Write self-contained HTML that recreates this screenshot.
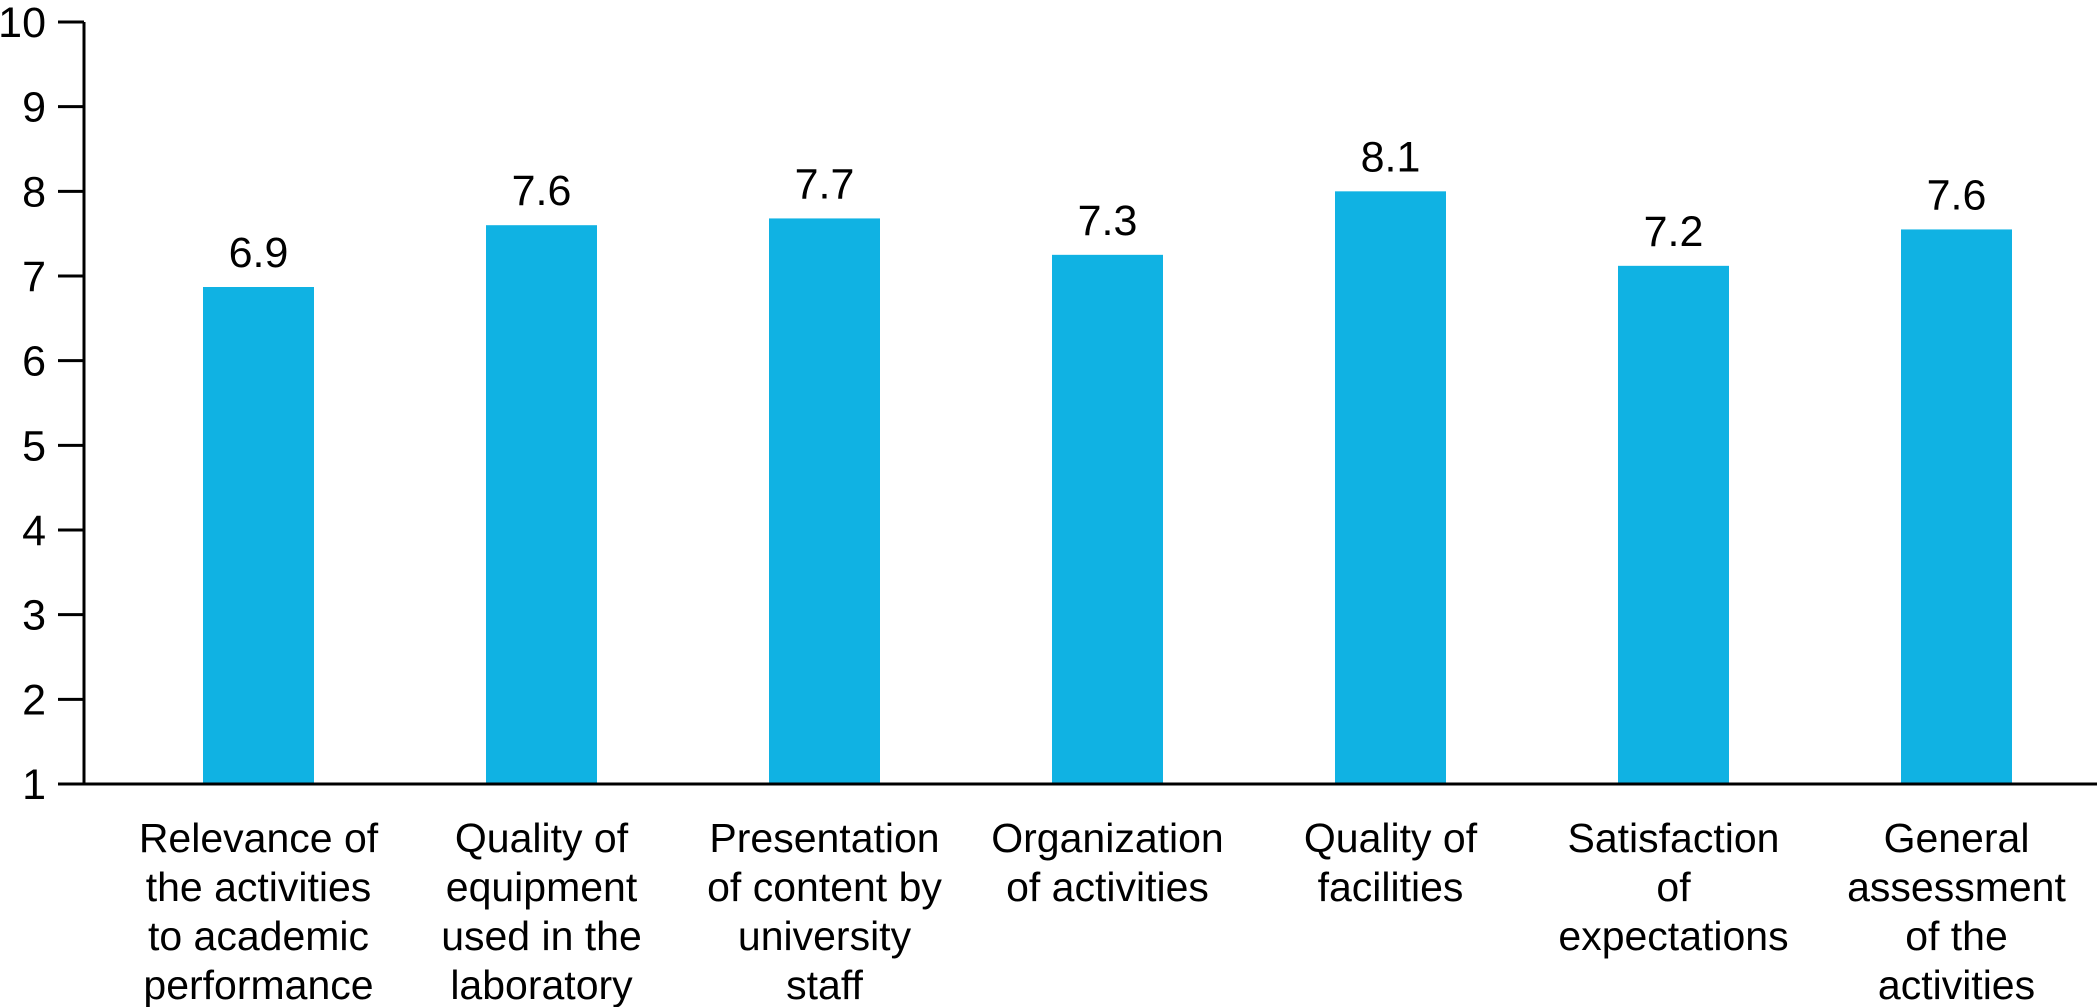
<!DOCTYPE html>
<html><head><meta charset="utf-8"><style>
html,body{margin:0;padding:0;background:#fff;}
svg{display:block;font-family:"Liberation Sans",Arial,sans-serif;}
</style></head><body>
<svg id="chart" width="2097" height="1007" viewBox="0 0 2097 1007" xmlns="http://www.w3.org/2000/svg"></svg>
<script>
const categories = [
  ["Relevance of","the activities","to academic","performance"],
  ["Quality of","equipment","used in the","laboratory"],
  ["Presentation","of content by","university","staff"],
  ["Organization","of activities"],
  ["Quality of","facilities"],
  ["Satisfaction","of","expectations"],
  ["General","assessment","of the","activities"]
];
const values = [6.87, 7.60, 7.68, 7.25, 8.00, 7.12, 7.55];
const valueLabels = ["6.9","7.6","7.7","7.3","8.1","7.2","7.6"];
const yTicks = [1,2,3,4,5,6,7,8,9,10];

const NS = "http://www.w3.org/2000/svg";
const svg = document.getElementById('chart');
const y0 = 784, y1 = 22, vMin = 1, vMax = 10;
const axisX = 84;
function yScale(v){ return y0 - (v - vMin) / (vMax - vMin) * (y0 - y1); }
const firstBar = 203, pitch = 283, barW = 111;
function xScale(i){ return firstBar + i * pitch; }
function mk(tag, attrs){ const e = document.createElementNS(NS, tag); for (const k in attrs) e.setAttribute(k, attrs[k]); svg.appendChild(e); return e; }

values.forEach((v, i) => {
  const r = mk('rect', {x: xScale(i), y: yScale(v), width: barW, height: y0 - yScale(v), fill: '#10b2e3'});
  
  
  const t = mk('text', {x: xScale(i) + barW / 2, y: yScale(v) - 20, 'text-anchor': 'middle', 'font-size': 43, fill: '#000'});
  t.textContent = valueLabels[i];
  
  
  const g = mk('text', {x: xScale(i) + barW / 2, y: 852, 'text-anchor': 'middle', 'font-size': 41, fill: '#000'});
  
  
  categories[i].forEach((line, j) => {
    const s = document.createElementNS(NS, 'tspan');
    s.setAttribute('x', xScale(i) + barW / 2);
    s.setAttribute('y', 852 + j * 49);
    s.textContent = line;
    g.appendChild(s);
  });
});

yTicks.forEach(v => {
  const y = yScale(v);
  const l = mk('line', {x1: 58, x2: axisX, y1: y, y2: y, stroke: '#000', 'stroke-width': 3});
  
  
  const t = mk('text', {x: 46, y: y + 15, 'text-anchor': 'end', 'font-size': 43, fill: '#000'});
  t.textContent = v;
  
  
});

const ya = mk('line', {x1: axisX, x2: axisX, y1: y1, y2: y0 + 1.5, stroke: '#000', 'stroke-width': 3});


const xa = mk('line', {x1: axisX - 1.5, x2: 2097, y1: y0, y2: y0, stroke: '#000', 'stroke-width': 3});


</script>
</body></html>
